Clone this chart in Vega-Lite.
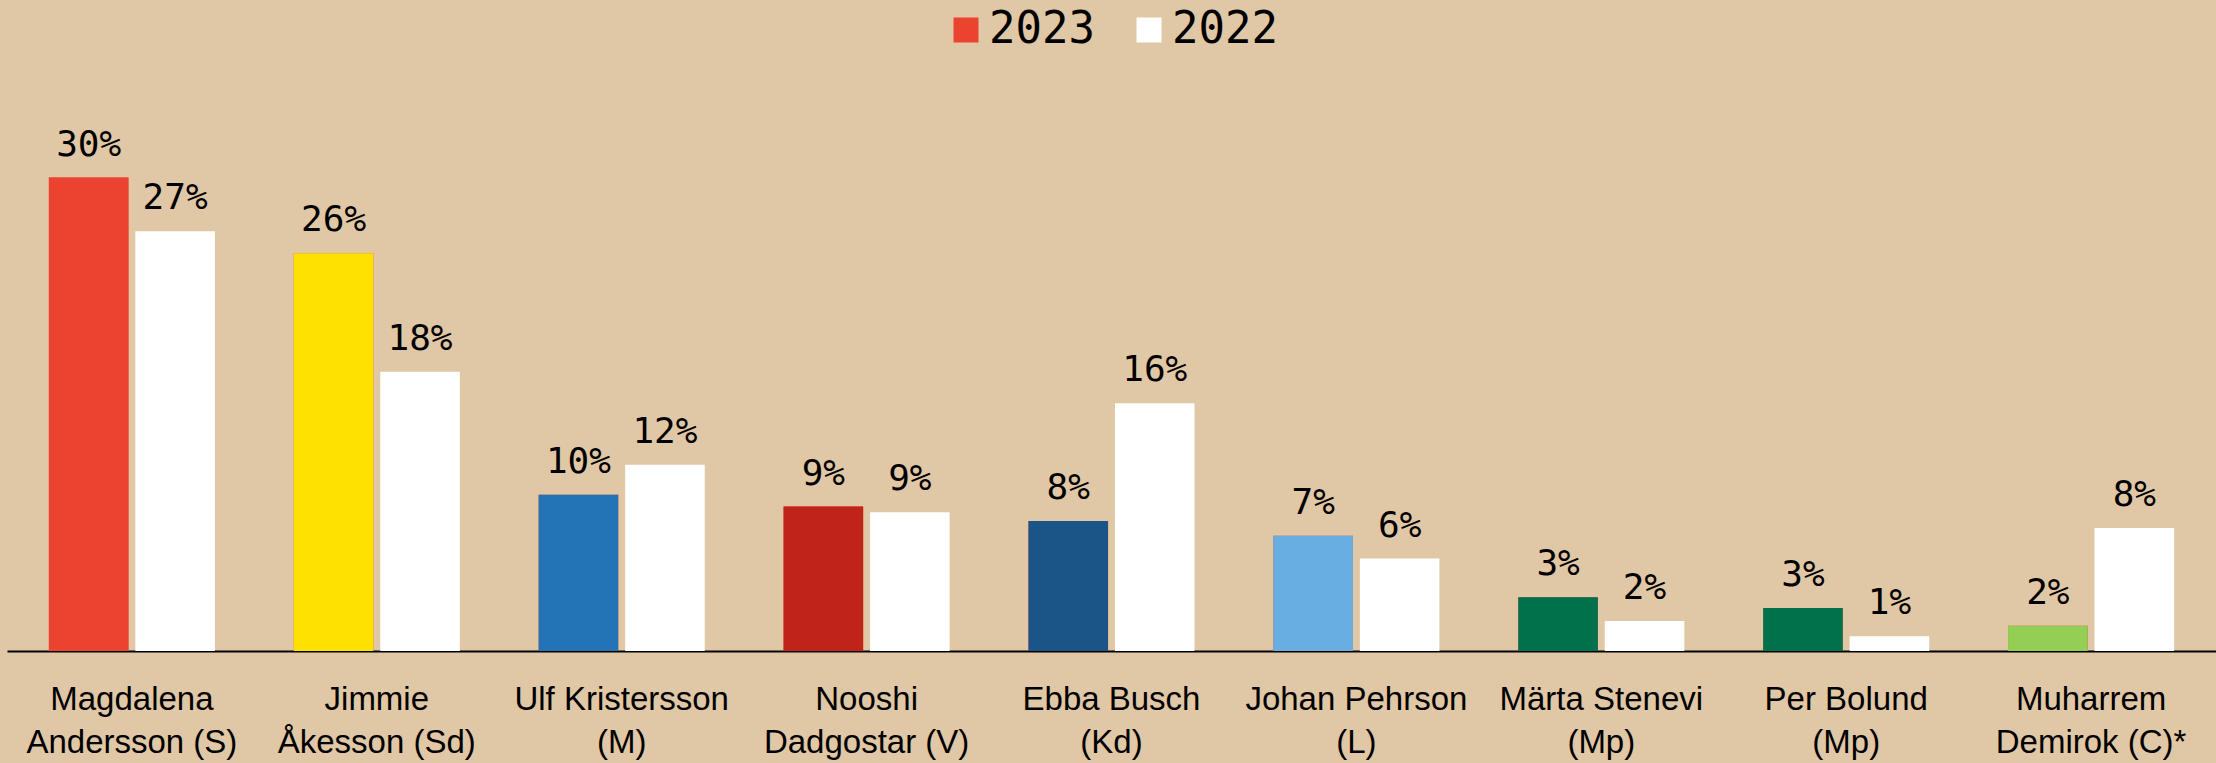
{
  "$schema": "https://vega.github.io/schema/vega-lite/v6.json",
  "width": 2209,
  "height": 505,
  "autosize": {"type": "none"},
  "padding": {"left": 7, "top": 146, "right": 0, "bottom": 112},
  "background": "#E0C7A5",
  "config": {"view": {"stroke": null}, "font": "Liberation Sans"},
  "data": {
    "values": [
      {"namn": "Magdalena|Andersson (S)", "parti": "S", "ar": "2023", "andel": 30.0, "etikett": "30%"},
      {"namn": "Magdalena|Andersson (S)", "parti": "S", "ar": "2022", "andel": 26.6, "etikett": "27%"},
      {"namn": "Jimmie|Åkesson (Sd)", "parti": "SD", "ar": "2023", "andel": 25.2, "etikett": "26%"},
      {"namn": "Jimmie|Åkesson (Sd)", "parti": "SD", "ar": "2022", "andel": 17.7, "etikett": "18%"},
      {"namn": "Ulf Kristersson|(M)", "parti": "M", "ar": "2023", "andel": 9.9, "etikett": "10%"},
      {"namn": "Ulf Kristersson|(M)", "parti": "M", "ar": "2022", "andel": 11.8, "etikett": "12%"},
      {"namn": "Nooshi|Dadgostar (V)", "parti": "V", "ar": "2023", "andel": 9.15, "etikett": "9%"},
      {"namn": "Nooshi|Dadgostar (V)", "parti": "V", "ar": "2022", "andel": 8.8, "etikett": "9%"},
      {"namn": "Ebba Busch|(Kd)", "parti": "KD", "ar": "2023", "andel": 8.23, "etikett": "8%"},
      {"namn": "Ebba Busch|(Kd)", "parti": "KD", "ar": "2022", "andel": 15.7, "etikett": "16%"},
      {"namn": "Johan Pehrson|(L)", "parti": "L", "ar": "2023", "andel": 7.3, "etikett": "7%"},
      {"namn": "Johan Pehrson|(L)", "parti": "L", "ar": "2022", "andel": 5.86, "etikett": "6%"},
      {"namn": "Märta Stenevi|(Mp)", "parti": "MP", "ar": "2023", "andel": 3.4, "etikett": "3%"},
      {"namn": "Märta Stenevi|(Mp)", "parti": "MP", "ar": "2022", "andel": 1.9, "etikett": "2%"},
      {"namn": "Per Bolund|(Mp)", "parti": "MP", "ar": "2023", "andel": 2.73, "etikett": "3%"},
      {"namn": "Per Bolund|(Mp)", "parti": "MP", "ar": "2022", "andel": 0.93, "etikett": "1%"},
      {"namn": "Muharrem|Demirok (C)*", "parti": "C", "ar": "2023", "andel": 1.6, "etikett": "2%"},
      {"namn": "Muharrem|Demirok (C)*", "parti": "C", "ar": "2022", "andel": 7.8, "etikett": "8%"}
    ]
  },
  "encoding": {
    "x": {
      "field": "namn",
      "type": "nominal",
      "sort": null,
      "scale": {"paddingInner": 0.322, "paddingOuter": 0.171},
      "axis": {
        "title": null,
        "labelAngle": 0,
        "ticks": false,
        "tickSize": 0,
        "domainColor": "#000000",
        "domainWidth": 2,
        "labelFont": "Liberation Sans",
        "labelFontSize": 33,
        "labelColor": "#000000",
        "labelPadding": 32,
        "labelLineHeight": 43,
        "labelLimit": 400,
        "labelExpr": "split(datum.label, '|')"
      }
    },
    "xOffset": {
      "field": "ar",
      "type": "nominal",
      "sort": ["2023", "2022"],
      "scale": {"paddingInner": 0.08, "paddingOuter": 0}
    },
    "y": {
      "field": "andel",
      "type": "quantitative",
      "scale": {"domain": [0, 32], "nice": false, "zero": true},
      "axis": null
    }
  },
  "layer": [
    {
      "mark": {"type": "bar"},
      "encoding": {
        "color": {
          "field": "ar",
          "type": "nominal",
          "scale": {"domain": ["2023", "2022"], "range": ["#EA4430", "#FFFFFF"]},
          "legend": {
            "orient": "none",
            "legendX": 937,
            "legendY": -138,
            "direction": "horizontal",
            "title": null,
            "symbolType": "square",
            "symbolSize": 625,
            "symbolStrokeWidth": 0,
            "labelFont": "DejaVu Sans Mono",
            "labelFontSize": 44,
            "labelColor": "#000000",
            "labelOffset": 1,
            "columnPadding": 32,
            "padding": 0
          }
        }
      }
    },
    {
      "transform": [{"filter": "datum.ar == '2023'"}],
      "mark": {"type": "bar"},
      "encoding": {
        "fill": {
          "field": "parti",
          "type": "nominal",
          "scale": {
            "domain": ["S", "SD", "M", "V", "KD", "L", "MP", "C"],
            "range": ["#EA4430", "#FFE100", "#2274B6", "#C02317", "#1B5588", "#68AEE3", "#00714A", "#93CF55"]
          },
          "legend": null
        }
      }
    },
    {
      "mark": {"type": "text", "font": "DejaVu Sans Mono", "fontSize": 36, "baseline": "alphabetic", "dy": -22, "color": "#000000"},
      "encoding": {"text": {"field": "etikett"}}
    }
  ]
}
